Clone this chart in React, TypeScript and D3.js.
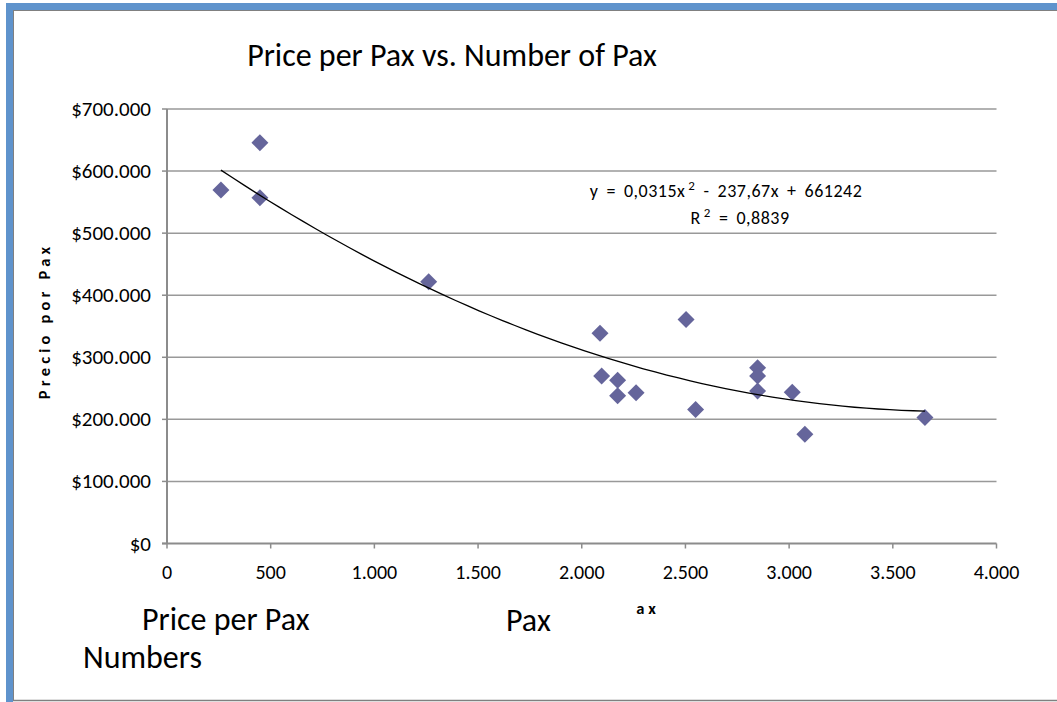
import React from "react";
import * as d3 from "d3";

// ---- data ----
const paxNumbers = [260, 448, 448, 1262, 2088, 2503, 2096, 2173, 2173, 2262, 2549, 2848, 2848, 2848, 3015, 3076, 3655];
const pricePerPax = [569500, 645700, 557000, 421800, 338600, 361000, 270000, 263000, 238000, 243000, 216000, 283000, 270000, 245700, 243600, 176000, 203000];
const xTicks = [0, 500, 1000, 1500, 2000, 2500, 3000, 3500, 4000];
const yTicks = [0, 100000, 200000, 300000, 400000, 500000, 600000, 700000];
// polynomial trendline coefficients as shown in the chart label
const trendCoeffs = [661242, -237.67, 0.0315];

const W = 1057;
const H = 702;
const FONT = "Carlito, Lato, 'Open Sans', sans-serif";

const locale = d3.formatLocale({ decimal: ",", thousands: ".", grouping: [3], currency: ["$", ""] });
const fmtX = locale.format(",.0f");
const fmtY = locale.format("$,.0f");

export default function App() {
  const x = d3.scaleLinear().domain([0, 4000]).range([167, 996.5]);
  const y = d3.scaleLinear().domain([0, 700000]).range([543.5, 109]);

  const pts = paxNumbers.map((v, i) => ({ px: v, py: pricePerPax[i] }));
  const xMin = d3.min(paxNumbers) as number;
  const xMax = d3.max(paxNumbers) as number;
  const trendXs = d3.range(0, 61).map((i) => xMin + ((xMax - xMin) * i) / 60);
  const trend = trendXs.map((v) => ({ px: v, py: trendCoeffs[0] + trendCoeffs[1] * v + trendCoeffs[2] * v * v }));
  const line = d3
    .line<{ px: number; py: number }>()
    .x((d) => x(d.px))
    .y((d) => y(d.py));
  const diamond = d3.symbol().type(d3.symbolDiamond2).size(184)() as string;

  const gridColor = "#999999";
  const axisColor = "#8c8c8c";

  return (
    <svg width={W} height={H} style={{ position: "absolute", left: 0, top: 0, background: "#fff" }} fontFamily={FONT}>
      {/* frame */}
      <rect x={0} y={0} width={W} height={H} fill="#fff" />
      <rect x={6} y={3} width={W - 6} height={7} fill="#5F93CC" />
      <rect x={6} y={3} width={7} height={H - 3} fill="#5F93CC" />
      <line x1={13.5} y1={10} x2={13.5} y2={700.5} stroke="#808080" strokeWidth={1} />
      <line x1={13} y1={10.5} x2={W} y2={10.5} stroke="#808080" strokeWidth={1} />
      <line x1={13} y1={700.5} x2={W} y2={700.5} stroke="#808080" strokeWidth={1.5} />

      {/* title */}
      <text x={452} y={66} textAnchor="middle" fontSize={32} fill="#000">
        Price per Pax vs. Number of Pax
      </text>

      {/* gridlines */}
      {yTicks.filter((t) => t > 0).map((t) => (
        <line key={"g" + t} x1={x(0)} x2={x(4000)} y1={y(t)} y2={y(t)} stroke={gridColor} strokeWidth={1.5} />
      ))}

      {/* y axis */}
      <line x1={x(0)} x2={x(0)} y1={y(700000)} y2={y(0)} stroke={axisColor} strokeWidth={2} />
      {yTicks.map((t) => (
        <g key={"y" + t}>
          <line x1={x(0) - 5} x2={x(0)} y1={y(t)} y2={y(t)} stroke={axisColor} strokeWidth={1.5} />
          <text x={151} y={y(t) + 7} textAnchor="end" fontSize={21} fill="#000">
            {fmtY(t)}
          </text>
        </g>
      ))}

      {/* x axis */}
      <line x1={x(0) - 5} x2={x(4000)} y1={y(0)} y2={y(0)} stroke={axisColor} strokeWidth={2} />
      {xTicks.map((t) => (
        <g key={"x" + t}>
          <line x1={x(t)} x2={x(t)} y1={y(0)} y2={y(0) + 5} stroke={axisColor} strokeWidth={1.5} />
          <text x={x(t)} y={579} textAnchor="middle" fontSize={20} fill="#000">
            {fmtX(t)}
          </text>
        </g>
      ))}

      {/* points */}
      {pts.map((d, i) => (
        <path key={"p" + i} d={diamond} transform={`translate(${x(d.px)},${y(d.py)})`} fill="#65659B" />
      ))}

      {/* trendline */}
      <path d={line(trend) as string} fill="none" stroke="#000" strokeWidth={1.3} />

      {/* equation */}
      <text x={726} y={197} textAnchor="middle" fontSize={18} letterSpacing={0.5} wordSpacing={3.5} fill="#000">
        {"y = 0,0315x"}
        <tspan dx={3} dy={-7} fontSize={13}>2</tspan>
        <tspan dy={7}>{" - 237,67x + 661242"}</tspan>
      </text>
      <text x={740} y={224} textAnchor="middle" fontSize={18} letterSpacing={0.5} wordSpacing={3.5} fill="#000">
        {"R"}
        <tspan dx={3} dy={-7} fontSize={13}>2</tspan>
        <tspan dy={7}>{" = 0,8839"}</tspan>
      </text>

      {/* y axis title */}
      <text
        transform={`translate(50,321) rotate(-90)`}
        textAnchor="middle"
        fontSize={16.5}
        fontWeight="bold"
        letterSpacing={4.2}
        fill="#000"
      >
        Precio por Pax
      </text>

      {/* x axis stray labels */}
      <text x={648} y={614} textAnchor="middle" fontSize={16.5} fontWeight="bold" letterSpacing={4} fill="#000">
        ax
      </text>
      <text x={142} y={630} fontSize={32} fill="#000">
        Price per Pax
      </text>
      <text x={506} y={631} fontSize={32} fill="#000">
        Pax
      </text>
      <text x={83} y={668} fontSize={32} fill="#000">
        Numbers
      </text>
    </svg>
  );
}
